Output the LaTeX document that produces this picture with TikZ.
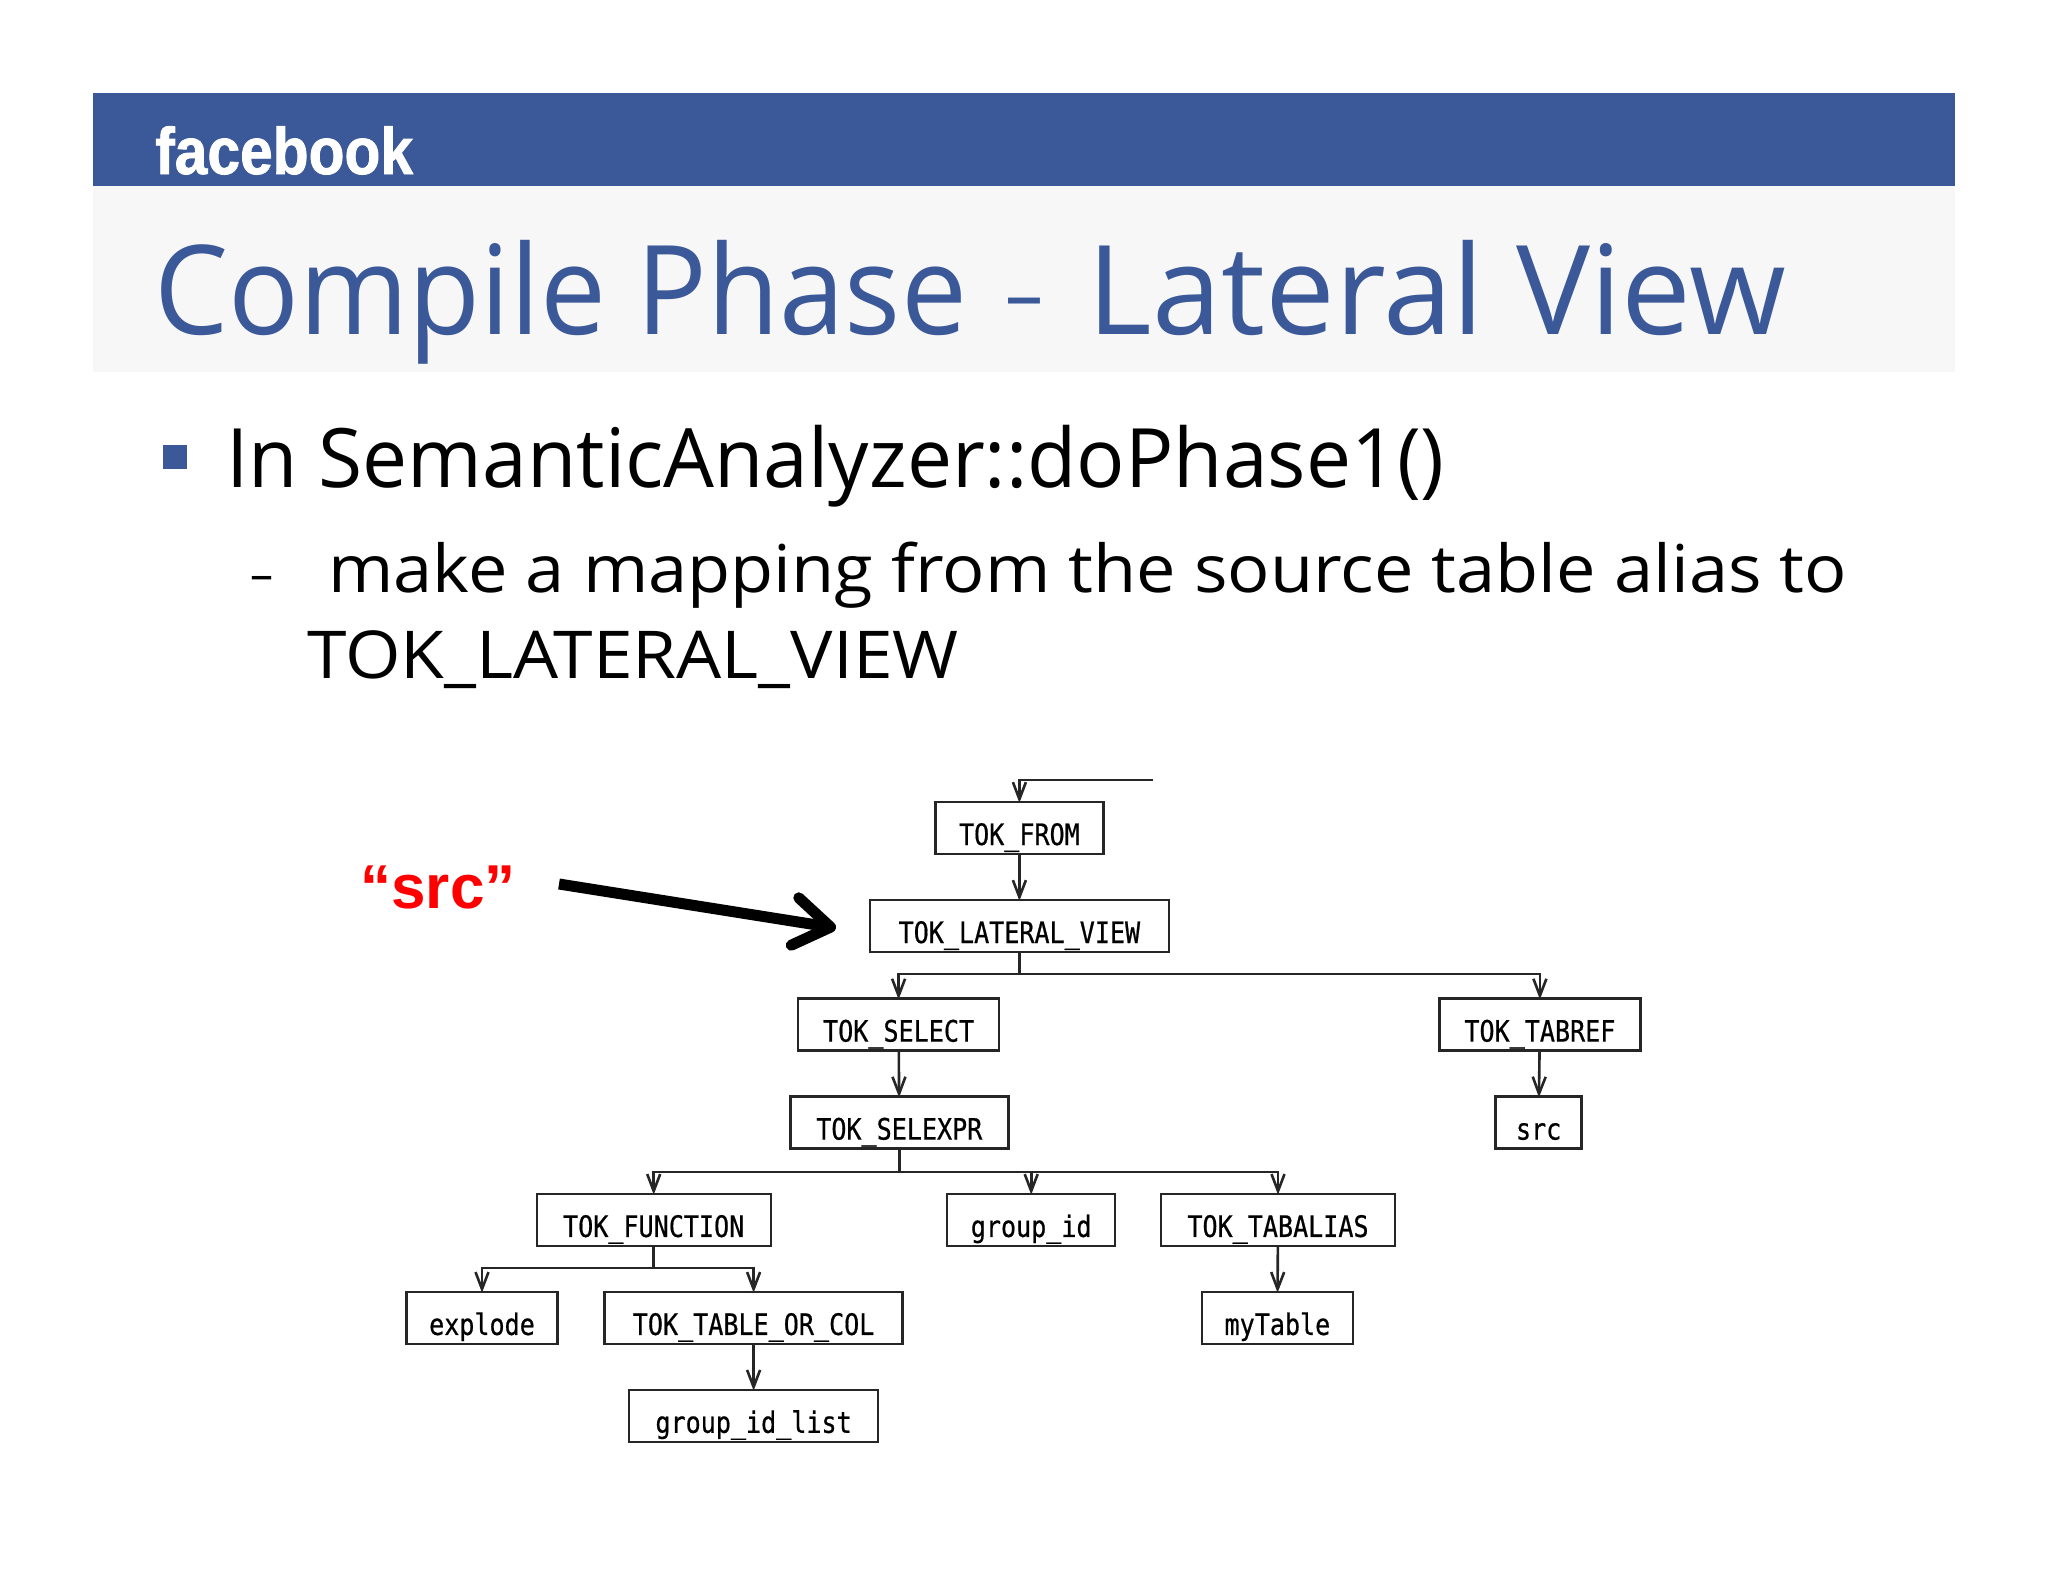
\documentclass[tikz,border=0pt]{standalone}
\usepackage{fontspec}
\usepackage{tikz}
\usetikzlibrary{arrows.meta}
\setmainfont{Open Sans}
\newfontfamily\titlefont[FakeStretch=0.948]{Open Sans}
\newfontfamily\titlerest[FakeStretch=1.003]{Open Sans}
\newfontfamily\firstfont[FakeStretch=0.98]{Open Sans}
\newfontfamily\secondfont[FakeStretch=1.065]{Open Sans}
\newfontfamily\thirdfont[FakeStretch=1.08]{Open Sans}
\newfontfamily\treefont[FakeStretch=0.85,FakeBold=0.6]{DejaVu Sans Mono}
\newfontfamily\logofont[FakeStretch=0.89,FakeBold=1.2]{Liberation Sans}
\newfontfamily\redfont{Liberation Sans}
\definecolor{fbblue}{HTML}{3B5998}
\definecolor{bandgrey}{HTML}{F7F7F8}
\tikzset{
	tok/.style={draw=black!85,line width=2.4pt,inner sep=0pt,text height=43pt,text depth=9pt,font=\treefont\fontsize{29.5}{30}\selectfont},
	wire/.style={draw=black!85,line width=2.6pt},
	down/.style={wire,shorten >=-2pt,-{Straight Barb[length=17pt,width=13pt]}},
	slide/.style={inner sep=0pt,anchor=base west},
}
\begin{document}
\begin{tikzpicture}[x=1pt,y=-1pt]
			\useasboundingbox (0,0) rectangle (2048,1582);
			% header
			\fill[fbblue] (93,93) rectangle (1955,186);
			\fill[bandgrey] (93,186) rectangle (1955,372);
			\node (logo) [slide,white,font=\logofont\bfseries\fontsize{66}{66}\selectfont] at (155,174) {facebook};
			\node (title) [slide,fbblue,font=\titlefont\fontsize{124}{124}\selectfont] at (154,334) {Compile Phase\hspace{38pt}\raisebox{12pt}{\fontsize{80}{80}\selectfont –}\hspace{45pt}{\titlerest Lateral View}};
			% text
			\node (bullet) [fill=fbblue,inner sep=0pt,minimum size=24pt] at (175,457) {};
			\node (first) [slide,font=\firstfont\fontsize{82}{82}\selectfont] at (226,487) {In SemanticAnalyzer::doPhase1()};
			\node (dash) [slide,font=\fontsize{46}{46}\selectfont] at (250,590) {–};
			\node (second) [slide,font=\secondfont\fontsize{66}{66}\selectfont] at (328,592) {make a mapping from the source table alias to};
			\node (third) [slide,font=\thirdfont\fontsize{66}{66}\selectfont] at (307,678) {TOK\_LATERAL\_VIEW};
			% red label and big arrow
			\node (srclabel) [red,font=\redfont\bfseries\fontsize{62}{62}\selectfont] at (438,887) {“src”};
			\coordinate (bigstart) at (559,884);
			\coordinate (bigend) at (836,928);
			\draw[line width=11pt,-{Straight Barb[length=36pt,width=48pt,round]}] (bigstart) -- (bigend);
			% tree boxes
			\node (from) [tok,minimum width=168pt] at (1019.4,828) {TOK\_FROM};
			\node (view) [tok,minimum width=299pt] at (1019.4,926) {TOK\_LATERAL\_VIEW};
			\node (select) [tok,minimum width=201pt] at (898.6,1024.6) {TOK\_SELECT};
			\node (tabref) [tok,minimum width=201pt] at (1539.9,1024.6) {TOK\_TABREF};
			\node (selexpr) [tok,minimum width=218pt] at (899.3,1122.6) {TOK\_SELEXPR};
			\node (srcleaf) [tok,minimum width=86pt] at (1538.6,1122.6) {src};
			\node (function) [tok,minimum width=234pt] at (653.7,1219.9) {TOK\_FUNCTION};
			\node (groupid) [tok,minimum width=168pt] at (1031.2,1219.9) {group\_id};
			\node (tabalias) [tok,minimum width=234pt] at (1278,1219.9) {TOK\_TABALIAS};
			\node (explode) [tok,minimum width=151pt] at (482,1317.9) {explode};
			\node (tableorcol) [tok,minimum width=298pt] at (753.6,1317.9) {TOK\_TABLE\_OR\_COL};
			\node (mytable) [tok,minimum width=151pt] at (1277.4,1317.9) {myTable};
			\node (idlist) [tok,minimum width=249pt] at (753.6,1415.8) {group\_id\_list};
			% junctions
			\coordinate (feed) at (1153,780);
			\coordinate (busview) at (1019.4,974);
			\coordinate (busexpr) at (899.3,1172);
			\coordinate (busfunc) at (653.7,1268);
			% tree connectors
			\draw[down] (feed) -| (from.north);
			\draw[down] (from) -- (view);
			\draw[wire] (view) -- (busview);
			\draw[down] (busview) -| (select.north);
			\draw[down] (busview) -| (tabref.north);
			\draw[down] (select) -- (selexpr);
			\draw[down] (tabref) -- (srcleaf);
			\draw[wire] (selexpr) -- (busexpr);
			\draw[down] (busexpr) -| (function.north);
			\draw[down] (busexpr) -| (groupid.north);
			\draw[down] (busexpr) -| (tabalias.north);
			\draw[wire] (function) -- (busfunc);
			\draw[down] (busfunc) -| (explode.north);
			\draw[down] (busfunc) -| (tableorcol.north);
			\draw[down] (tabalias) -- (mytable);
			\draw[down] (tableorcol) -- (idlist);
		\end{tikzpicture}
\end{document}
